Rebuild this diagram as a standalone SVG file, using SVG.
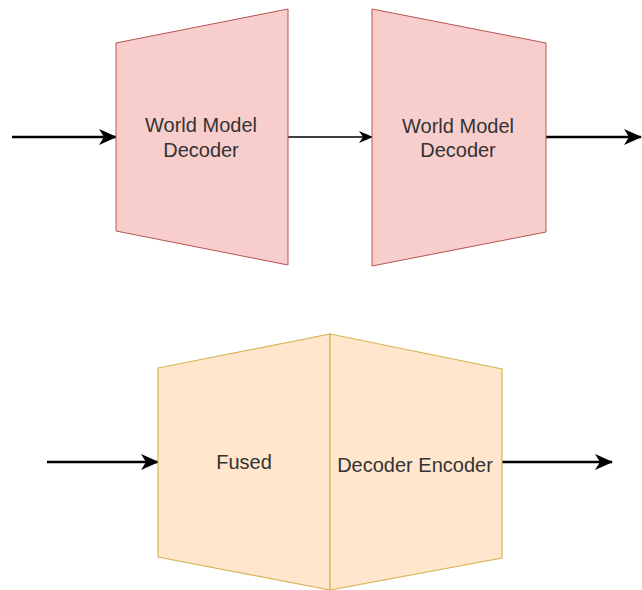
<svg xmlns="http://www.w3.org/2000/svg" width="642" height="590" viewBox="0 0 642 590">
<style>
.pink{fill:#f8cecc;stroke:#b85450;stroke-width:1}
.peach{fill:#ffe6cc;stroke:#d6b656;stroke-width:1.2}
.lbl{font-family:"Liberation Sans",Arial,sans-serif;font-size:20px;fill:#333;text-anchor:middle}
.edge{stroke:#000;fill:none}
</style>
<defs>
<marker id="ah" markerUnits="userSpaceOnUse" viewBox="0 0 18 16" markerWidth="18" markerHeight="16" refX="17" refY="8" orient="auto">
<path d="M0,0 L18,8 L0,16 L5,8 z" fill="#000"/>
</marker>
<marker id="ahs" markerUnits="userSpaceOnUse" viewBox="0 0 14 12" markerWidth="14" markerHeight="12" refX="13" refY="6" orient="auto">
<path d="M0,0 L14,6 L0,12 L4,6 z" fill="#000"/>
</marker>
</defs>
<g id="connectors">
<line class="edge" x1="12" y1="137" x2="116" y2="137" stroke-width="2.5" marker-end="url(#ah)"/>
<line class="edge" x1="288" y1="137" x2="372" y2="137" stroke-width="1.3" marker-end="url(#ahs)"/>
<line class="edge" x1="546" y1="137" x2="641" y2="137" stroke-width="2.5" marker-end="url(#ah)"/>
<line class="edge" x1="47" y1="462" x2="158" y2="462" stroke-width="2.5" marker-end="url(#ah)"/>
<line class="edge" x1="502" y1="462" x2="612" y2="462" stroke-width="2.5" marker-end="url(#ah)"/>
</g>
<g id="wm-decoder-1">
<polygon class="pink" points="116,43 288,9 288,265 116,231"/>
<text class="lbl" x="201" y="132">World Model</text>
<text class="lbl" x="201" y="157">Decoder</text>
</g>
<g id="wm-decoder-2">
<polygon class="pink" points="372,9 546,43 546,232 372,266"/>
<text class="lbl" x="458" y="133">World Model</text>
<text class="lbl" x="458" y="157">Decoder</text>
</g>
<g id="fused">
<polygon class="peach" points="158,368 330,334 330,590 158,557"/>
<text class="lbl" x="244" y="469">Fused</text>
</g>
<g id="decoder-encoder">
<polygon class="peach" points="330,334 502,369 502,558 330,590"/>
<text class="lbl" x="415" y="472">Decoder Encoder</text>
</g>
</svg>
